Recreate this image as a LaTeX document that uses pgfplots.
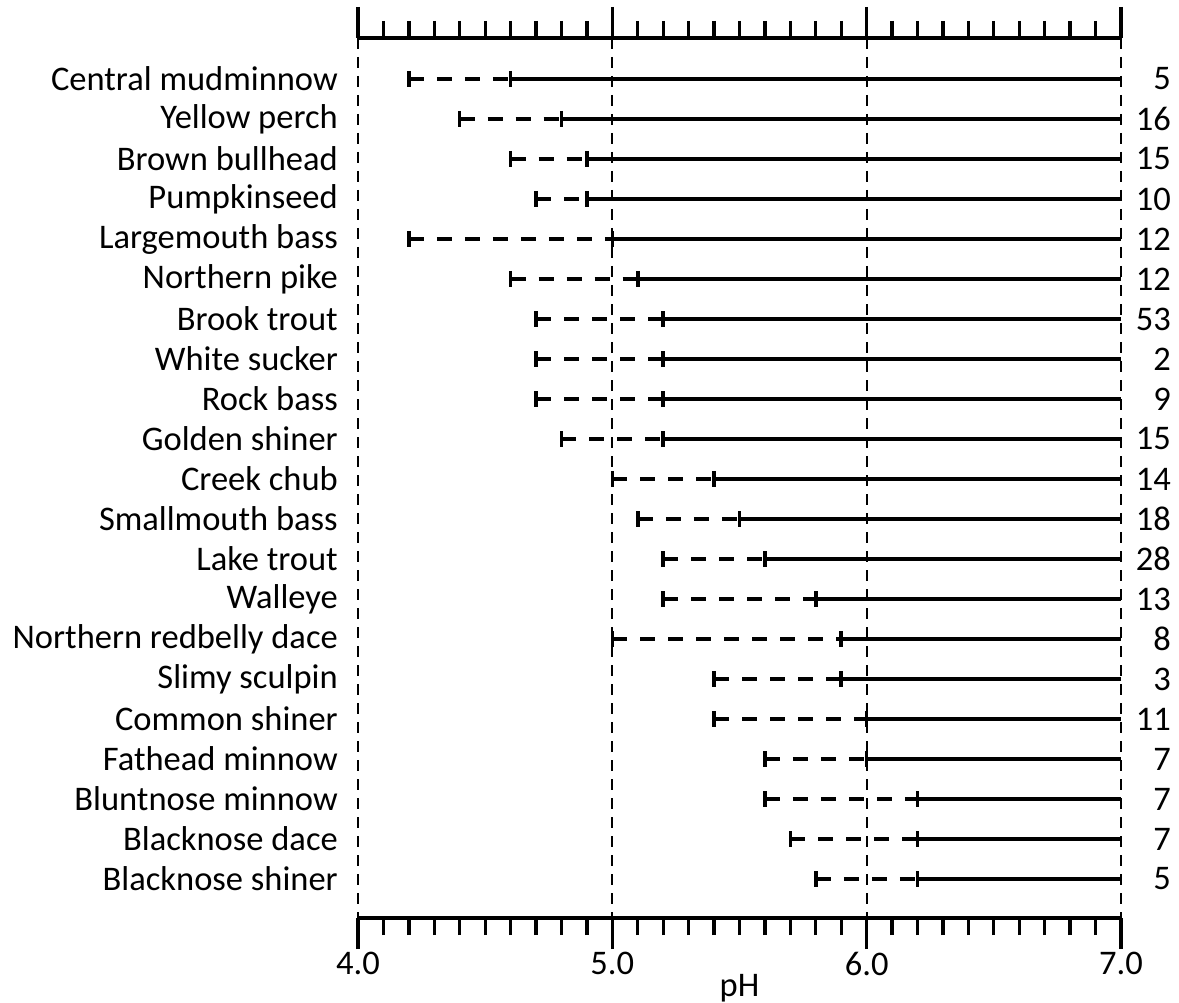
\documentclass[border=0pt]{standalone}
\usepackage{pgfplots}
\usepackage{pgfplotstable}
\pgfplotsset{compat=1.18}
\usepackage{fontspec}
\setmainfont{Carlito}

% species, lowest pH seen (dashed start), pH limit (tick), number of records
\pgfplotstableread[col sep=comma]{
row,name,lo,mid,n
1,Central mudminnow,4.2,4.6,5
2,Yellow perch,4.4,4.8,16
3,Brown bullhead,4.6,4.9,15
4,Pumpkinseed,4.7,4.9,10
5,Largemouth bass,4.2,5.0,12
6,Northern pike,4.6,5.1,12
7,Brook trout,4.7,5.2,53
8,White sucker,4.7,5.2,2
9,Rock bass,4.7,5.2,9
10,Golden shiner,4.8,5.2,15
11,Creek chub,5.0,5.4,14
12,Smallmouth bass,5.1,5.5,18
13,Lake trout,5.2,5.6,28
14,Walleye,5.2,5.8,13
15,Northern redbelly dace,5.0,5.9,8
16,Slimy sculpin,5.4,5.9,3
17,Common shiner,5.4,6.0,11
18,Fathead minnow,5.6,6.0,7
19,Bluntnose minnow,5.6,6.2,7
20,Blacknose dace,5.7,6.2,7
21,Blacknose shiner,5.8,6.2,5
}\fishdata

\newcommand{\bigfont}{\fontsize{34.5}{40}\selectfont}

\begin{document}
\begin{tikzpicture}
\pgfplotsset{
  fishaxis/.style={
    scale only axis, width=763pt, height=880pt,
    xmin=4, xmax=7, ymin=-0.025, ymax=21.975, y dir=reverse,
    ytick={1,...,21}, clip=false,
    ytick style={draw=none},
    every tick label/.append style={font=\bigfont},
  },
}
\begin{axis}[fishaxis,
  separate axis lines,
  x axis line style={line width=4pt},
  y axis line style={draw=none},
  xtick={4,5,6,7}, minor x tick num=9,
  tick align=outside,
  major tick length=31pt, minor tick length=17pt,
  xtick style={line width=3.3pt, black},
  xmajorgrids,
  major grid style={black, line width=2pt, dash pattern=on 11pt off 8pt},
  xticklabel style={/pgf/number format/.cd, fixed, fixed zerofill, precision=1},
  /pgf/number format/assume math mode=true,
  yticklabels from table={\fishdata}{name},
  yticklabel style={anchor=east, inner sep=0pt, xshift=11pt},
  xlabel={pH}, xlabel style={font=\bigfont, yshift=9pt},
]
% dashed part: from the lowest pH to the limit
\addplot[only marks, mark=|, mark options={solid, line width=3.5pt}, mark size=8pt,
  error bars/.cd, x dir=plus, x explicit, error mark=none,
  error bar style={draw=black, line width=3.5pt, dash pattern=on 15pt off 13pt}]
  table[x=lo, y=row, x error expr=\thisrow{mid}-\thisrow{lo}] {\fishdata};
% solid part: from the limit up to 7.0
\addplot[only marks, mark=|, mark options={solid, line width=3.5pt}, mark size=8pt,
  error bars/.cd, x dir=plus, x explicit, error mark=none,
  error bar style={draw=black, solid, line width=3.5pt}]
  table[x=mid, y=row, x error expr=7-\thisrow{mid}] {\fishdata};
\end{axis}
\begin{axis}[fishaxis,
  axis line style={draw=none}, xtick=\empty,
  yticklabel pos=right,
  yticklabels from table={\fishdata}{n},
  yticklabel style={anchor=east, inner sep=0pt, xshift=50pt},
]
\end{axis}
\pgfresetboundingbox
\path (current axis.south west) ++(-358pt,-85pt) rectangle ++(1179pt,1003pt);
\end{tikzpicture}
\end{document}
